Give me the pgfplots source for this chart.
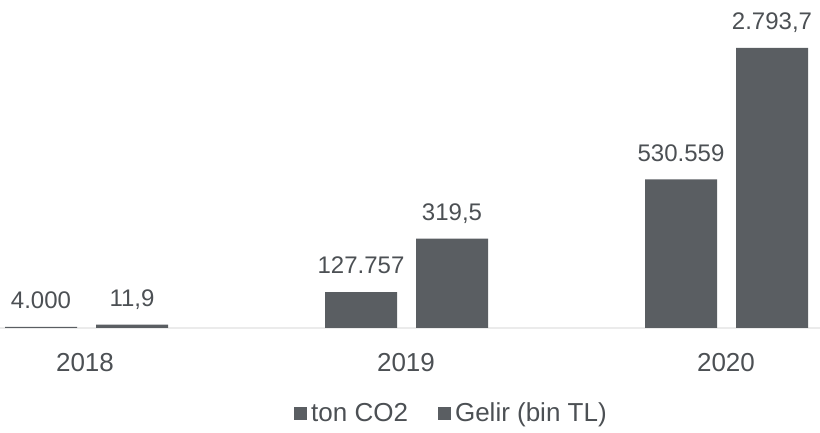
\documentclass[border=0pt]{standalone}
\usepackage{pgfplots}
\pgfplotsset{compat=1.18}
\usepackage{pgfplotstable}
\usepackage{fontspec}
\setmainfont{Liberation Sans}
\definecolor{barc}{HTML}{5A5E62}
\definecolor{txtc}{HTML}{4C5054}
\pgfplotstableread{
x y label
41 4000 4.000
361 127757 127.757
681 530559 530.559
}\tonco
\pgfplotstableread{
x y label
132 11900 11,9
452 319500 319,5
772 2793700 2.793,7
}\gelir
\begin{document}
\begin{tikzpicture}
\begin{axis}[
  width=410pt, height=216.5pt, scale only axis,
  xmin=0, xmax=820,
  ymin=-375000, ymax=1171429,
  hide axis, clip=false,
  ybar, bar width=72, bar shift=0pt,
  nodes near coords, point meta=explicit symbolic,
  every node near coord/.append style={anchor=base, yshift=9.2pt, inner sep=0pt, font=\fontsize{12}{14}\selectfont, text=txtc},
  legend columns=2,
  legend style={draw=none, fill=none, at={(0.5518,0.045)}, anchor=center,
    font=\fontsize{13}{15}\selectfont, text=txtc,
    /tikz/every even column/.append style={column sep=13pt}},
  legend image code/.code={\fill[#1] (0pt,-3.4pt) rectangle (6.5pt,3.4pt);},
]
\addplot[forget plot, draw=black!8, line width=0.6pt, sharp plot, nodes near coords={}] coordinates {(0,0) (820,0)};
\addplot[fill=barc, draw=none, y filter/.expression={min(y,1000000)}] table[x=x, y=y, meta=label] {\tonco};
\addplot[fill=barc, draw=none, y filter/.expression={min(y,1000000)}] table[x=x, y=y, meta=label] {\gelir};
\legend{ton CO2, Gelir (bin TL)}
\node[anchor=base, text=txtc, font=\fontsize{13}{15}\selectfont] at (axis cs:85,-157143) {2018};
\node[anchor=base, text=txtc, font=\fontsize{13}{15}\selectfont] at (axis cs:406,-157143) {2019};
\node[anchor=base, text=txtc, font=\fontsize{13}{15}\selectfont] at (axis cs:726,-157143) {2020};
\end{axis}
\pgfresetboundingbox
\path (current axis.south west) rectangle (current axis.north east);
\end{tikzpicture}
\end{document}
